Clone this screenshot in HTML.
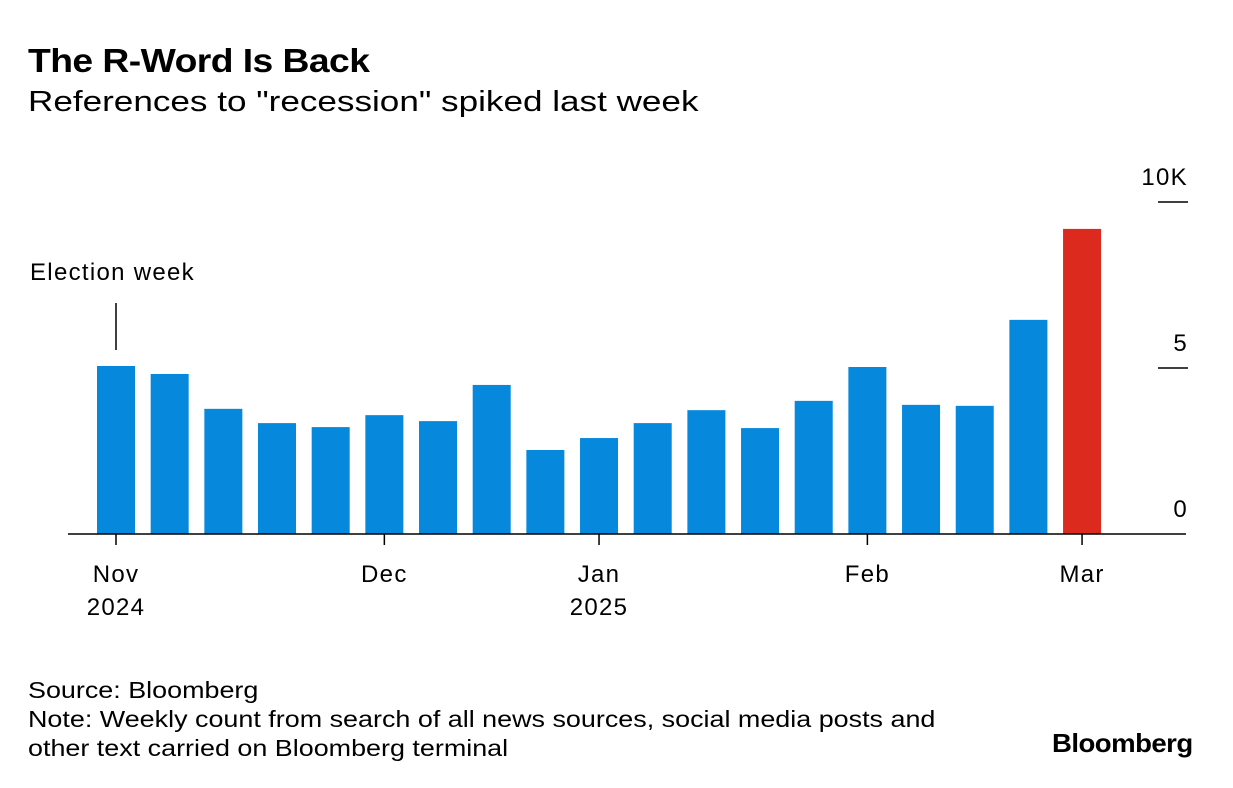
<!DOCTYPE html>
<html><head><meta charset="utf-8"><style>
body{margin:0;background:#fff;font-family:"Liberation Sans",sans-serif;color:#000}
#wrap{position:relative;width:1233px;height:788px;overflow:hidden}
.t{position:absolute;white-space:nowrap;transform-origin:0 0}
svg text{letter-spacing:1.3px}
</style></head><body>
<div id="wrap">
<div class="t" style="left:28px;top:42px;font-size:33px;font-weight:bold;letter-spacing:-0.5px;transform:scaleX(1.13)">The R-Word Is Back</div>
<div class="t" style="left:28px;top:86px;font-size:29px;transform:scaleX(1.21)">References to "recession" spiked last week</div>
<svg id="chart" width="1233" height="788" style="position:absolute;left:0;top:0"></svg>
<div class="t" style="left:28px;top:676px;font-size:23px;line-height:29px;transform:scaleX(1.17)">Source: Bloomberg<br>Note: Weekly count from search of all news sources, social media posts and<br>other text carried on Bloomberg terminal</div>
<div class="t" style="left:1052px;top:728px;font-size:26px;font-weight:bold;letter-spacing:-0.5px;transform:scaleX(1.06)">Bloomberg</div>
</div>
<script>
const values=[5.06,4.82,3.77,3.34,3.22,3.58,3.40,4.49,2.53,2.89,3.34,3.73,3.19,4.01,5.03,3.89,3.86,6.45,9.19];
const yTicks=[0,5,10];
const yTickLabels=["0","5","10K"];
const xLabelIdx=[0,5,9,14,18];
const xLabels=[["Nov","2024"],["Dec"],["Jan","2025"],["Feb"],["Mar"]];
const svg=document.getElementById('chart');const NS='http://www.w3.org/2000/svg';
const x0=116,step=53.67,bw=38;
const y=v=>534-v*33.2;
const xc=i=>x0+i*step;
function mk(t,a){const e=document.createElementNS(NS,t);for(const k in a)e.setAttribute(k,a[k]);svg.appendChild(e);return e;}
values.forEach((v,i)=>{const r=mk('rect',{x:xc(i)-bw/2,y:y(v),width:bw,height:534-y(v),fill:i==values.length-1?'#dd2a1f':'#0688dc'});

});
yTicks.forEach((t,i)=>{if(t>0){const l=mk('line',{x1:1158,x2:1188,y1:y(t),y2:y(t),stroke:'#000','stroke-width':1.5});

}
const tx=mk('text',{x:1188,y:y(t)-17,'text-anchor':'end','font-size':24,'font-family':'Liberation Sans'});tx.textContent=yTickLabels[i];

});
const ax=mk('line',{x1:68,x2:1186,y1:534,y2:534,stroke:'#000','stroke-width':1.5});


xLabelIdx.forEach((idx,k)=>{const cx=xc(idx);const l=mk('line',{x1:cx,x2:cx,y1:534,y2:545,stroke:'#000','stroke-width':1.5});


xLabels[k].forEach((s,j)=>{const t=mk('text',{x:cx,y:582+j*33,'text-anchor':'middle','font-size':24,'font-family':'Liberation Sans'});t.textContent=s;

});});
const an=mk('line',{x1:116,x2:116,y1:303,y2:350,stroke:'#000','stroke-width':1.5});


const at=mk('text',{x:30,y:280,'font-size':24,'font-family':'Liberation Sans'});at.textContent='Election week';


</script>
</body></html>
